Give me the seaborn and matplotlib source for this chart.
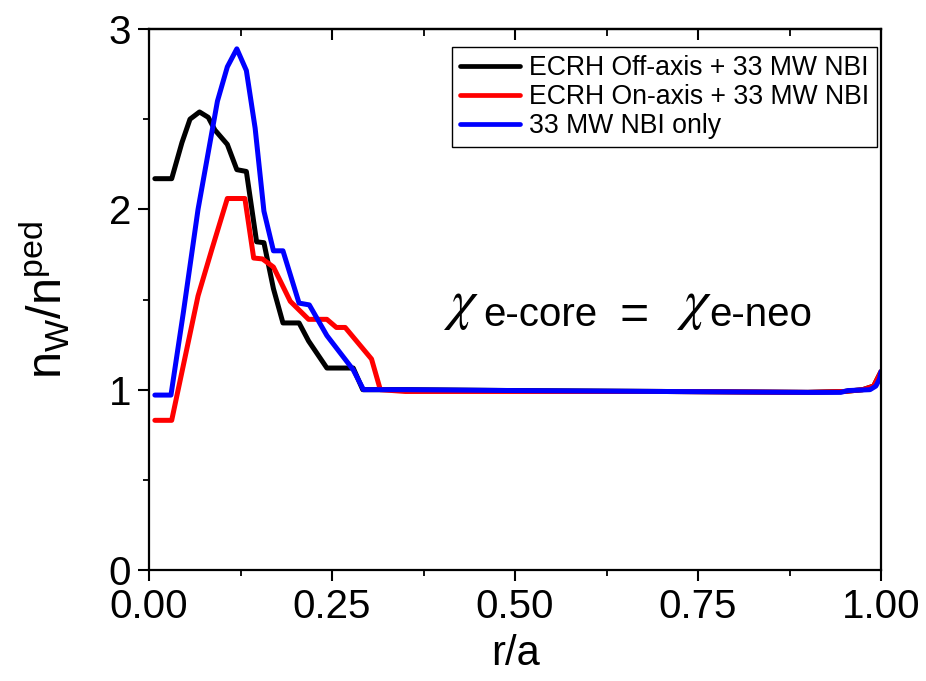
import numpy as np
import pandas as pd
import matplotlib
matplotlib.use("Agg")
import matplotlib.pyplot as plt
import seaborn as sns
from matplotlib.ticker import MultipleLocator

# ---- data ----
labels = ["ECRH Off-axis + 33 MW NBI", "ECRH On-axis + 33 MW NBI", "33 MW NBI only"]
colors = ["#000000", "#ff0000", "#0000ff"]

r_off = [0.008, 0.031, 0.045, 0.056, 0.069, 0.081, 0.090, 0.107, 0.120, 0.133, 0.147, 0.157,
         0.170, 0.183, 0.205, 0.218, 0.243, 0.279, 0.292, 0.35, 0.5, 0.7, 0.9, 0.95, 0.975,
         0.99, 1.0]
n_off = [2.17, 2.17, 2.37, 2.50, 2.54, 2.51, 2.44, 2.36, 2.22, 2.21, 1.82, 1.815,
         1.56, 1.37, 1.37, 1.27, 1.12, 1.12, 1.00, 1.0, 0.995, 0.99, 0.985, 0.99, 1.0,
         1.02, 1.1]

r_on = [0.008, 0.031, 0.067, 0.086, 0.107, 0.131, 0.143, 0.155, 0.170, 0.193, 0.218, 0.243,
        0.256, 0.268, 0.304, 0.316, 0.35, 0.5, 0.7, 0.9, 0.95, 0.975, 0.99, 1.0]
n_on = [0.83, 0.83, 1.52, 1.78, 2.06, 2.06, 1.73, 1.725, 1.68, 1.49, 1.39, 1.39,
        1.345, 1.345, 1.17, 1.0, 0.99, 0.99, 0.99, 0.985, 0.99, 1.0, 1.02, 1.1]

r_nbi = [0.008, 0.030, 0.047, 0.067, 0.0935, 0.107, 0.120, 0.133, 0.145, 0.157, 0.170, 0.183,
         0.205, 0.219, 0.243, 0.279, 0.293, 0.35, 0.5, 0.7, 0.9, 0.945, 0.955, 0.985,
         0.993, 0.998, 1.0]
n_nbi = [0.97, 0.97, 1.43, 2.0, 2.60, 2.79, 2.89, 2.77, 2.45, 1.99, 1.77, 1.77,
         1.48, 1.47, 1.30, 1.11, 1.0, 1.0, 0.995, 0.99, 0.985, 0.985, 0.995, 1.0,
         1.02, 1.06, 1.1]

xticks = [0.00, 0.25, 0.50, 0.75, 1.00]
xticklabels = ["0.00", "0.25", "0.50", "0.75", "1.00"]
yticks = [0, 1, 2, 3]

series = [(r_off, n_off), (r_on, n_on), (r_nbi, n_nbi)]

# ---- plot ----
sns.set_style("ticks")
plt.rcParams["font.family"] = ["Liberation Sans", "DejaVu Sans"]
plt.rcParams["mathtext.fontset"] = "custom"
plt.rcParams["mathtext.rm"] = "Liberation Sans"
plt.rcParams["mathtext.it"] = "Liberation Sans"
for key in ["text.color", "axes.labelcolor", "xtick.color", "ytick.color", "axes.edgecolor"]:
    plt.rcParams[key] = "black"

fig = plt.figure(figsize=(9.26, 6.81), dpi=100)
ax = fig.add_axes([149 / 926, 111 / 681, 732 / 926, 541 / 681])

for (rx, ny), lab, col in zip(series, labels, colors):
    df = pd.DataFrame({"r": rx, "n": ny})
    sns.lineplot(data=df, x="r", y="n", ax=ax, color=col, linewidth=3.6,
                 label=lab, sort=False, estimator=None)

ax.set_xlim(0, 1.0)
ax.set_ylim(0, 3)
ax.set_xticks(xticks)
ax.set_xticklabels(xticklabels)
ax.set_yticks(yticks)
ax.xaxis.set_minor_locator(MultipleLocator(0.125))
ax.yaxis.set_minor_locator(MultipleLocator(0.5))

for sp in ax.spines.values():
    sp.set_linewidth(1.6)
    sp.set_color("black")

ax.tick_params(axis="both", which="major", direction="out", length=8, width=1.5,
               labelsize=29, colors="black")
ax.tick_params(axis="x", which="major", pad=5)
ax.tick_params(axis="y", which="major", pad=5)
ax.tick_params(axis="both", which="minor", direction="out", length=4, width=1.3,
               colors="black")
ax.tick_params(top=False, right=False)

top = ax.secondary_xaxis("top")
top.set_xticks(xticks)
top.xaxis.set_minor_locator(MultipleLocator(0.125))
top.tick_params(which="major", direction="in", length=8, width=1.5, labeltop=False,
                colors="black")
top.tick_params(which="minor", direction="in", length=5, width=1.3, colors="black")
top.spines["top"].set_linewidth(1.6)
top.spines["top"].set_color("black")

ax.set_xlabel("r/a", fontsize=30, labelpad=6, color="black")
ax.set_ylabel(r"$\mathregular{n_W/n^{ped}}$", fontsize=35, labelpad=26, color="black")

leg = ax.legend(loc="upper right", bbox_to_anchor=(0.995, 0.967), fontsize=19.2,
                frameon=True, fancybox=False, edgecolor="black", framealpha=1,
                handlelength=2.25, handletextpad=0.35, labelspacing=0.12,
                borderpad=0.3, borderaxespad=0, labelcolor="black")
leg.get_frame().set_linewidth(1.0)
for h in leg.get_lines():
    h.set_linewidth(3.4)

# annotation chi_e-core = chi_e-neo
ax.text(0.402, 1.40, r"$\chi$", fontsize=40, math_fontfamily="stix",
        ha="left", va="baseline", color="black")
ax.text(0.456, 1.355, "e-core", fontsize=29, ha="left", va="baseline", color="black")
ax.text(0.643, 1.335, "=", fontsize=36, ha="left", va="baseline", color="black")
ax.text(0.720, 1.40, r"$\chi$", fontsize=40, math_fontfamily="stix",
        ha="left", va="baseline", color="black")
ax.text(0.766, 1.355, "e-neo", fontsize=29, ha="left", va="baseline", color="black")

fig.savefig("out.png", dpi=100)
